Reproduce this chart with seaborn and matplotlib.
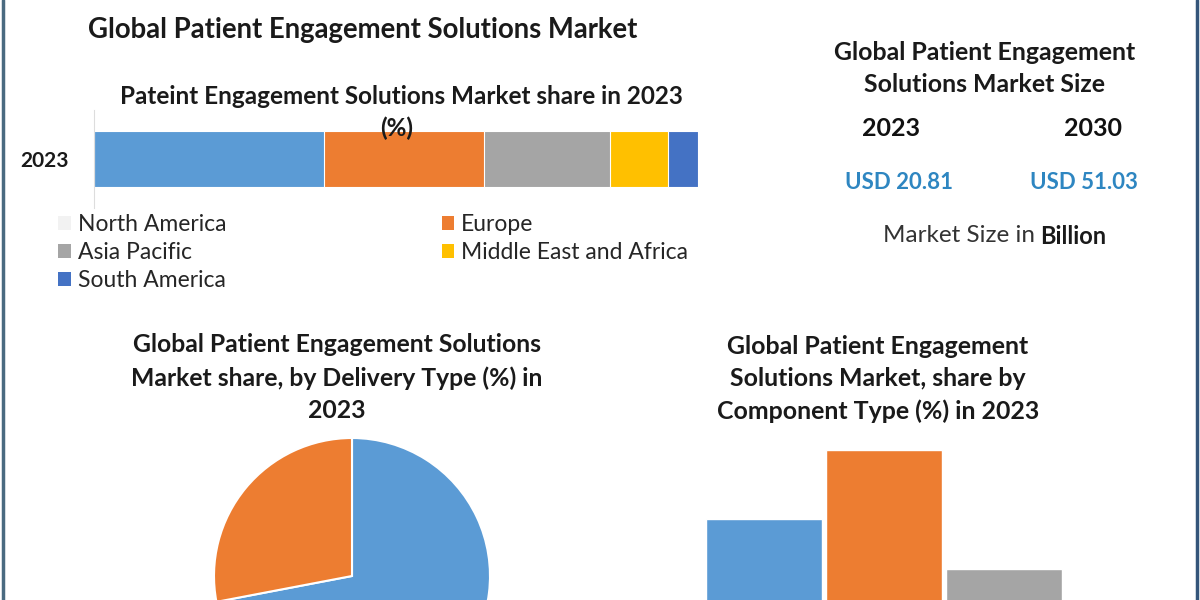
import matplotlib
matplotlib.use("Agg")
import matplotlib.pyplot as plt
from matplotlib.patches import Patch
import seaborn as sns
import pandas as pd
import numpy as np

# data
regions = ["North America", "Europe", "Asia Pacific", "Middle East and Africa", "South America"]
region_share = [38, 26.5, 21, 9.5, 5]
region_colors = ["#5B9BD5", "#ED7D31", "#A5A5A5", "#FFC000", "#4472C4"]
legend_colors = ["#F2F2F2", "#ED7D31", "#A5A5A5", "#FFC000", "#4472C4"]

delivery_types = ["Cloud-based", "On-premise"]
delivery_share = [72, 28]

component_types = ["Software", "Hardware", "Services"]
component_share = [32, 46, 22]

size_years = ["2023", "2030"]
size_values = ["USD 20.81", "USD 51.03"]

sns.set_theme(style="white")
plt.rcParams['font.family'] = ['Lato', 'DejaVu Sans']

fig = plt.figure(figsize=(12, 6), dpi=100)
W, H = 1200, 600
DARK = "#1a1a1a"

def px(x0, y0, x1, y1):
    # pixel box (top-left origin) -> figure fraction rect
    return [x0 / W, 1 - y1 / H, (x1 - x0) / W, (y1 - y0) / H]

# border lines
fig.add_artist(plt.Line2D([3 / W, 3 / W], [0, 1], color="#4A6A80", lw=2.5))
fig.add_artist(plt.Line2D([1197 / W, 1197 / W], [0, 1], color="#34557A", lw=2.5))

# main title
fig.text(363 / W, 1 - 30 / H, "Global Patient Engagement Solutions Market",
         ha="center", va="center", fontsize=19.8, fontweight="bold", color=DARK)

# stacked horizontal bar
ax1 = fig.add_axes(px(94, 110, 698, 208))
cum = np.cumsum(region_share)
df_reg = pd.DataFrame({"region": regions, "cum": cum, "year": ["2023"] * len(regions)})
for i in range(len(regions) - 1, -1, -1):
    sns.barplot(data=df_reg.iloc[[i]], x="cum", y="year", orient="h", color=region_colors[i],
                width=0.57, saturation=1, ax=ax1, edgecolor="white", linewidth=0.8)
ax1.set_xlim(0, 100)
ax1.set_ylim(0.5, -0.5)
ax1.set_xlabel("")
ax1.set_ylabel("")
ax1.set_xticks([])
ax1.tick_params(axis="y", length=0, pad=18.5)
for t in ax1.get_yticklabels():
    t.set_fontweight("bold")
    t.set_fontsize(15)
    t.set_color(DARK)
for s in ["top", "right", "bottom"]:
    ax1.spines[s].set_visible(False)
ax1.spines["left"].set_color("#DDDDDD")
ax1.spines["left"].set_linewidth(0.8)
ax1.patch.set_alpha(0)

fig.text(401 / W, 1 - 96 / H, "Pateint Engagement Solutions Market share in 2023",
         ha="center", va="center", fontsize=17.5, fontweight="bold", color=DARK)
fig.text(397 / W, 1 - 128 / H, "(%)", ha="center", va="center",
         fontsize=17.5, fontweight="bold", color=DARK, zorder=10)

# legend (column-major order for 2 columns)
order = [0, 2, 4, 1, 3]
handles = [Patch(facecolor=legend_colors[i], edgecolor="none") for i in order]
labels = [regions[i] for i in order]
fig.legend(handles, labels, ncol=2, loc="upper left", bbox_to_anchor=(58 / W, 1 - 214 / H),
           frameon=False, fontsize=16.5, handlelength=0.56, handleheight=0.56, handletextpad=0.3,
           columnspacing=9.4, labelspacing=0.31, borderpad=0, borderaxespad=0,
           labelcolor="#262626")

# right panel: market size
fig.text(985 / W, 1 - 52 / H, "Global Patient Engagement", ha="center", va="center",
         fontsize=17.9, fontweight="bold", color=DARK)
fig.text(985 / W, 1 - 84 / H, "Solutions Market Size", ha="center", va="center",
         fontsize=17.9, fontweight="bold", color=DARK)
year_x = [891, 1093]
val_x = [899, 1084]
for i in range(2):
    fig.text(year_x[i] / W, 1 - 129 / H, size_years[i], ha="center", va="center",
             fontsize=18, fontweight="bold", color="#111111")
    fig.text(val_x[i] / W, 1 - 183 / H, size_values[i], ha="center", va="center",
             fontsize=16, fontweight="bold", color="#2E86C1")
fig.text(1035 / W, 1 - 236 / H, "Market Size in", ha="right", va="center",
         fontsize=17.5, color="#333333")
fig.text(1040 / W, 1 - 236 / H, "Billion", ha="left", va="center",
         fontsize=17, fontweight="bold", color=DARK)

# pie: delivery type
for j, line in enumerate(["Global Patient Engagement Solutions",
                          "Market share, by Delivery Type (%) in", "2023"]):
    fig.text(337 / W, 1 - (345 + j * 33) / H, line, ha="center", va="center",
             fontsize=17.8, fontweight="bold", color=DARK)
ax2 = fig.add_axes(px(214, 438, 490, 714))
ax2.pie(delivery_share, colors=region_colors[:2], startangle=90, counterclock=False,
        wedgeprops=dict(edgecolor="white", linewidth=1.5))
ax2.set_xlim(-1, 1)
ax2.set_ylim(-1, 1)
ax2.set_aspect("equal")

# bars: component type
for j, line in enumerate(["Global Patient Engagement",
                          "Solutions Market, share by",
                          "Component Type (%) in 2023"]):
    fig.text(878 / W, 1 - (347 + j * 32) / H, line, ha="center", va="center",
             fontsize=17.9, fontweight="bold", color=DARK)
ax3 = fig.add_axes(px(704, 430.5, 1064, 677))
df_comp = pd.DataFrame({"component": component_types, "share": component_share})
sns.barplot(data=df_comp, x="component", y="share", hue="component",
            palette=region_colors[:3], saturation=1, width=0.967, legend=False, ax=ax3)
ax3.set_xlim(-0.5, 2.5)
ax3.set_ylim(0, 50)
ax3.axis("off")

fig.savefig("out.png", dpi=100)
